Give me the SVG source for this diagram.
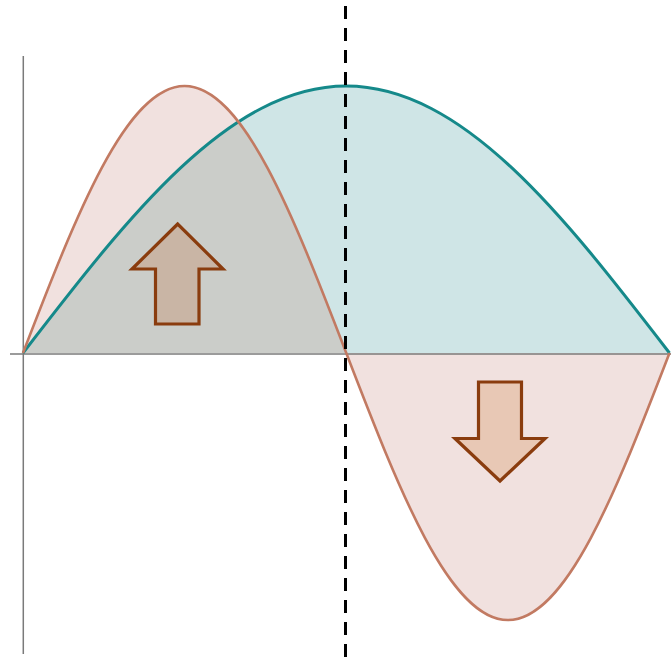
<svg xmlns="http://www.w3.org/2000/svg" width="671" height="660" viewBox="0 0 671 660">
<style>
.axis{stroke:#7a7a7a;stroke-width:1.5;fill:none}
.teal{stroke:#15898a;stroke-width:3;fill:none}
.red{stroke:#c27a62;stroke-width:2.6;fill:none}
.arrow{stroke:#8a3c0e;stroke-width:3.2;stroke-linejoin:miter}
</style>
<defs>
<path id="tealArea" d="M23,353 C128.4,216.2 229.3,86 346.25,86 C463.2,86 564.1,216.2 669.5,353 Z"/>
<clipPath id="tealClip"><use href="#tealArea"/></clipPath>
</defs>
<rect width="671" height="660" fill="#ffffff"/>
<g id="fills">
<use href="#tealArea" fill="#cfe5e6"/>
<path d="M23,353 C75.7,216.2 126.1,86 184.6,86 C243.1,86 293.5,216.2 346.25,353 Z" fill="#f1e1df"/>
<path d="M346.25,353 C399,489.8 449.4,620 507.9,620 C566.4,620 616.8,489.8 669.5,353 Z" fill="#f1e1df"/>
<path d="M23,353 C75.7,216.2 126.1,86 184.6,86 C243.1,86 293.5,216.2 346.25,353 Z" fill="#cbcdc9" clip-path="url(#tealClip)"/>
</g>
<g id="axes">
<line class="axis" x1="23.3" y1="56" x2="23.3" y2="654"/>
<line class="axis" x1="10" y1="354" x2="671" y2="354"/>
</g>
<g id="connectors">
<path id="teal-curve" class="teal" d="M23,353 C128.4,216.2 229.3,86 346.25,86 C463.2,86 564.1,216.2 669.5,353"/>
<path id="red-curve" class="red" d="M23,353 C75.7,216.2 126.1,86 184.6,86 C243.1,86 293.5,216.2 346.25,353 C399,489.8 449.4,620 507.9,620 C566.4,620 616.8,489.8 669.5,353"/>
<line id="divider" x1="345.5" y1="6" x2="345.5" y2="660" stroke="#000" stroke-width="3" stroke-dasharray="13 9"/>
</g>
<g id="arrow-up">
<polygon class="arrow" fill="#c9b5a5" points="177.7,224 132,269 155.5,269 155.5,324 199,324 199,269 223,269"/>
</g>
<g id="arrow-down">
<polygon class="arrow" fill="#e8c8b5" points="478.5,382 521.5,382 521.5,438.5 545,438.5 500,481 455,438.5 478.5,438.5"/>
</g>
</svg>
